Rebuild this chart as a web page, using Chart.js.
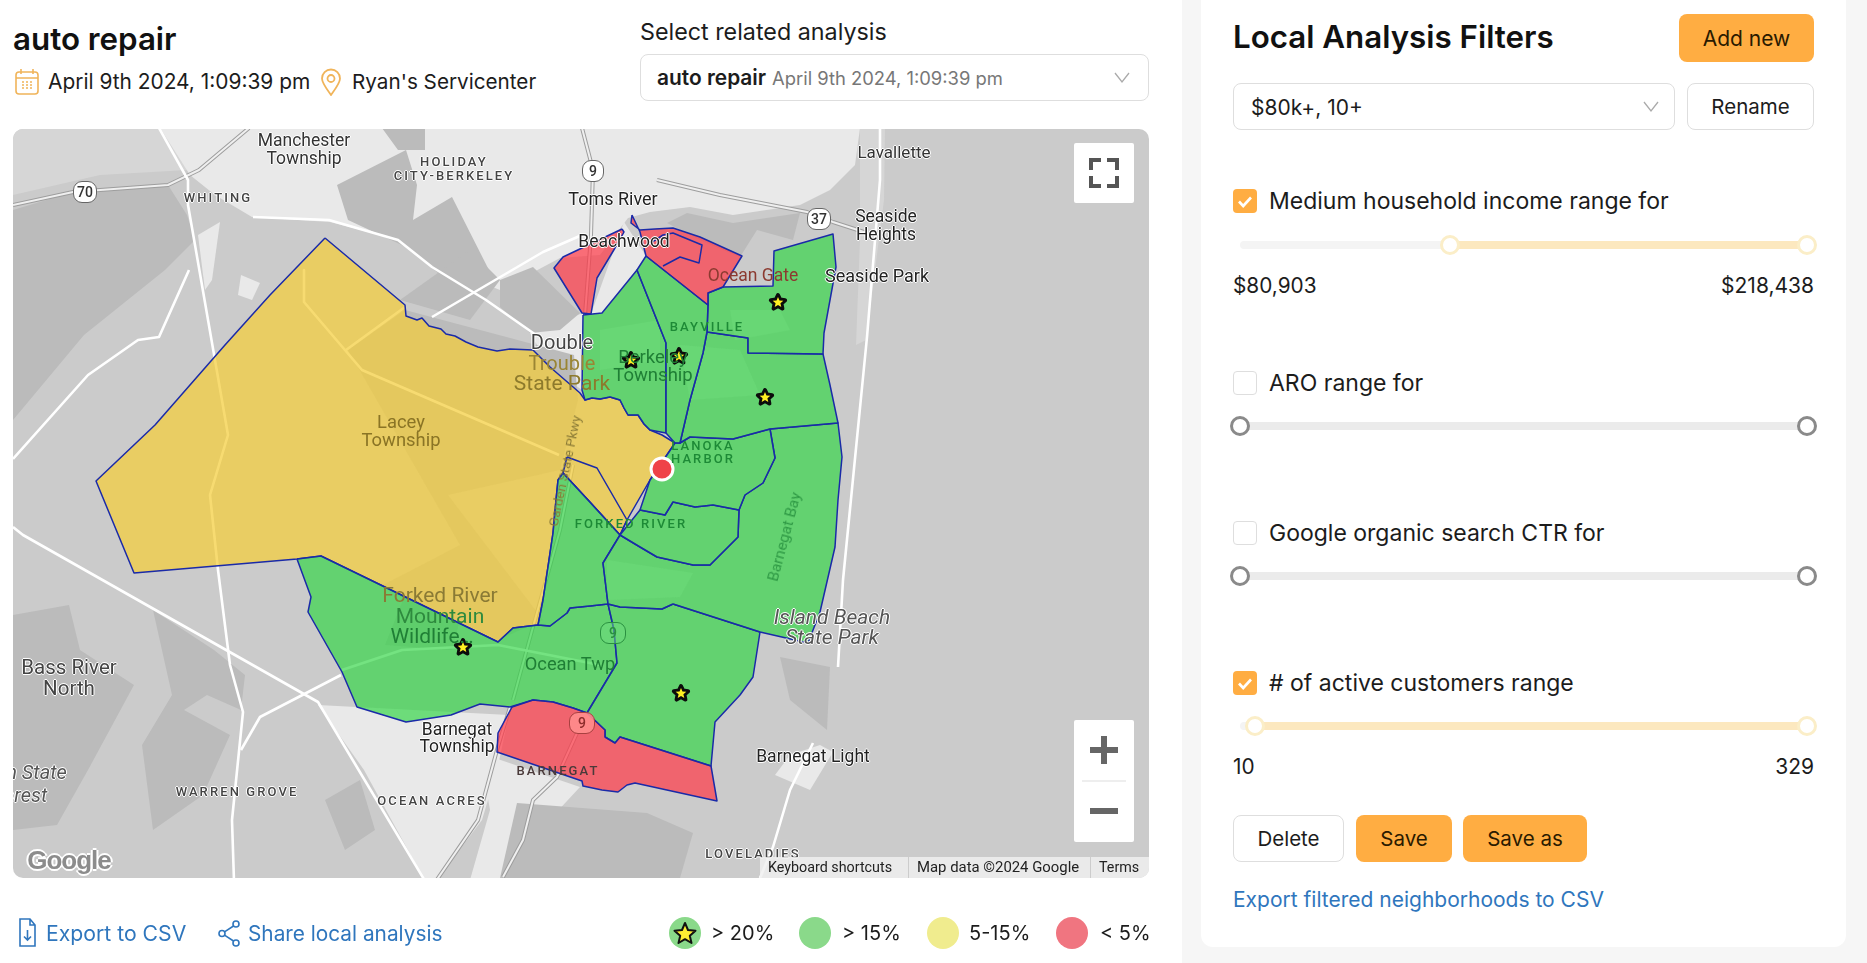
<!DOCTYPE html>
<html>
<head>
<meta charset="utf-8">
<title>auto repair</title>
<script src="https://cdn.jsdelivr.net/npm/chart.js@4"></script>
<style>
  html, body { margin: 0; padding: 0; width: 1867px; height: 963px; overflow: hidden; background: #fff; font-family: Inter, "Open Sans", sans-serif; color: #1c1c1c; }
  .abs { position: absolute; white-space: nowrap; }
  .mid { transform: translateY(-50%); }
  #side { position: absolute; left: 1182px; top: 0; width: 685px; height: 963px; background: #f6f6f6; }
  #card { position: absolute; left: 1201px; top: -10px; width: 645px; height: 957px; background: #fff; border-radius: 12px; }
  #mapbox { position: absolute; left: 13px; top: 129px; width: 1136px; height: 749px; overflow: hidden; border-radius: 10px; background: #cbcbcb; }
  #mapbox canvas { position: absolute; left: 0; top: 0; }
  .ml { position: absolute; white-space: nowrap; font-family: Roboto, sans-serif; transform: translate(-50%, -50%); line-height: 1; }
  .box { position: absolute; box-sizing: border-box; background: #fff; border: 1.5px solid #dedede; border-radius: 8px; }
  .btn { position: absolute; box-sizing: border-box; border-radius: 8px; display: flex; align-items: center; justify-content: center; font-size: 20.500px; }
  .orange { background: #ffad42; color: #2a1a00; }
  .white { background: #fff; border: 1.5px solid #dedede; color: #1c1c1c; }
  .cb { position: absolute; left: 1233px; width: 24px; height: 24px; box-sizing: border-box; border-radius: 4px; }
  .cb.on { background: #ffad42; }
  .cb.off { background: #fff; border: 1.5px solid #dedede; }
  .track { position: absolute; height: 8px; border-radius: 4px; transform: translateY(-50%); }
  .knob { position: absolute; width: 20px; height: 20px; box-sizing: border-box; border-radius: 50%; background: #fff; transform: translate(-50%, -50%); }
  .lg { position: absolute; width: 32px; height: 32px; border-radius: 50%; top: 917px; }
  .link { color: #2f76bd; }
  .shield { position: absolute; transform: translate(-50%, -50%); font: 500 14px Roboto, sans-serif; text-align: center; }
</style>
</head>
<body>

<div id="side"></div>
<div id="card"></div>

<!-- header -->
<div class="abs mid" style="left:13px;top:39px;font-size:31.300px;font-weight:600;color:#111">auto repair</div>
<svg class="abs" style="left:15px;top:68px" width="24" height="27" viewBox="0 0 24 27" fill="none" stroke="#f0b45a" stroke-width="1.6"><rect x="1" y="4" width="22" height="22" rx="3"/><path d="M1 10h22M6 1v5M18 1v5"/><path d="M7 14h10M7 17h10M7 20h10" stroke-dasharray="2 2"/></svg>
<div class="abs mid" style="left:48px;top:81px;font-size:20.900px">April 9th 2024, 1:09:39 pm</div>
<svg class="abs" style="left:320px;top:68px" width="22" height="28" viewBox="0 0 22 28" fill="none" stroke="#f0b45a" stroke-width="1.8"><path d="M11 27C6 20 2 15 2 10.500a9 9 0 0 1 18 0C20 15 16 20 11 27z"/><circle cx="11" cy="10.500" r="3.500"/></svg>
<div class="abs mid" style="left:352px;top:81px;font-size:20.700px">Ryan's Servicenter</div>

<div class="abs mid" style="left:640px;top:31px;font-size:23.300px">Select related analysis</div>
<div class="box" style="left:640px;top:54px;width:509px;height:47px"></div>
<div class="abs mid" style="left:657px;top:77px;font-size:20.900px"><b style="font-weight:600">auto repair</b> <span style="color:#777;font-size:18.400px">April 9th 2024, 1:09:39 pm</span></div>
<svg class="abs" style="left:1114px;top:72px" width="16" height="12" fill="none" stroke="#aaa" stroke-width="1.3"><path d="M1 1l7 9 7-9"/></svg>

<!-- map -->
<div id="mapbox">
  <canvas id="mapa" width="1136" height="749"></canvas>
  <div id="labels"></div>
  <div class="abs" style="left:1061px;top:14px;width:60px;height:60px;background:#fff;border-radius:2px">
    <svg width="60" height="60" fill="none" stroke="#555" stroke-width="4"><path d="M17 27V17h10M33 17h10v10M43 33v10H33M27 43H17V33"/></svg>
  </div>
  <div class="abs" style="left:1061px;top:591px;width:60px;height:122px;background:#fff;border-radius:2px">
    <svg width="60" height="122" fill="none" stroke="#666" stroke-width="6"><path d="M16 30h28M30 16v28M16 91h28"/><path d="M8 61h44" stroke="#ddd" stroke-width="1"/></svg>
  </div>
  <div class="abs" style="left:747px;top:728px;width:389px;height:21px;background:rgba(240,240,240,.85);font:14.300px Roboto,sans-serif;color:#222;line-height:21px">
    <span class="abs" style="left:8px">Keyboard shortcuts</span>
    <span class="abs" style="left:148px;top:0;bottom:0;border-left:1px solid #ccc"></span>
    <span class="abs" style="left:157px;font-size:14.900px">Map data ©2024 Google</span>
    <span class="abs" style="left:330px;top:0;bottom:0;border-left:1px solid #ccc"></span>
    <span class="abs" style="left:339px">Terms</span>
  </div>
</div>

<!-- footer -->
<svg class="abs" style="left:18px;top:918px" width="19" height="30" viewBox="0 0 19 30" fill="none" stroke="#2f76bd" stroke-width="1.6"><path d="M2 1h10l5 6v21H2zM12 1v6h5M9.500 12v10M6 18.500l3.500 3.500 3.500-3.500"/></svg>
<div class="abs mid link" style="left:46px;top:933px;font-size:21.200px">Export to CSV</div>
<svg class="abs" style="left:217px;top:919px" width="24" height="29" viewBox="0 0 24 29" fill="none" stroke="#2f76bd" stroke-width="1.6"><circle cx="19" cy="5" r="3"/><circle cx="5" cy="14.500" r="3"/><circle cx="19" cy="24" r="3"/><path d="M16.500 7L7.500 12.800M7.500 16.200L16.500 22"/></svg>
<div class="abs mid link" style="left:248px;top:933px;font-size:20.800px">Share local analysis</div>

<div class="lg" style="left:669px;background:#8ad98a"></div>
<svg class="abs" style="left:673px;top:921px" width="24" height="24" viewBox="0 0 24 24"><path d="M12 2l3 7 7.500.700-5.700 5 1.700 7.300L12 18.200 5.500 22l1.700-7.300-5.700-5L9 9z" fill="#ffee33" stroke="#111" stroke-width="2" stroke-linejoin="round"/></svg>
<div class="abs mid" style="left:711px;top:933px;font-size:20px">&gt; 20%</div>
<div class="lg" style="left:799px;background:#8ad98a"></div>
<div class="abs mid" style="left:842px;top:933px;font-size:20px">&gt; 15%</div>
<div class="lg" style="left:927px;background:#f0ec8e"></div>
<div class="abs mid" style="left:969px;top:933px;font-size:20px">5-15%</div>
<div class="lg" style="left:1056px;background:#f07580"></div>
<div class="abs mid" style="left:1100px;top:933px;font-size:20px">&lt; 5%</div>

<!-- filters -->
<div class="abs mid" style="left:1233px;top:37px;font-size:31.300px;font-weight:600;color:#111">Local Analysis Filters</div>
<div class="btn orange" style="left:1679px;top:14px;width:135px;height:48px;font-size:21px">Add new</div>
<div class="box" style="left:1233px;top:83px;width:442px;height:47px"></div>
<div class="abs mid" style="left:1251px;top:107px;font-size:21px">$80k+, 10+</div>
<svg class="abs" style="left:1643px;top:101px" width="16" height="12" fill="none" stroke="#aaa" stroke-width="1.3"><path d="M1 1l7 9 7-9"/></svg>
<div class="btn white" style="left:1687px;top:83px;width:127px;height:47px">Rename</div>

<div id="filters"></div>

<div class="btn white" style="left:1233px;top:815px;width:111px;height:47px">Delete</div>
<div class="btn orange" style="left:1356px;top:815px;width:96px;height:47px">Save</div>
<div class="btn orange" style="left:1463px;top:815px;width:124px;height:47px">Save as</div>
<div class="abs mid link" style="left:1233px;top:899px;font-size:21px">Export filtered neighborhoods to CSV</div>

<script>
// valores, em coordenadas do mapa
var lacey = [[325,238],[405,305],[406,316],[417,320],[422,318],[429,326],[441,329],[446,334],[455,336],[466,342],[478,347],[497,351],[510,349],[533,350],[541,358],[550,367],[565,380],[580,393],[585,400],[592,398],[600,399],[610,397],[620,400],[624,408],[628,415],[638,415],[644,424],[650,430],[662,435],[675,443],[650,480],[627,520],[620,535],[588,500],[563,473],[558,480],[556,500],[553,533],[543,600],[538,625],[513,628],[498,642],[321,556],[297,559],[134,573],[96,481],[155,425],[225,345],[270,295]];
var laceyInner = [[567,457],[597,468],[627,520],[620,535],[588,500],[563,473],[567,457]];

var oceanTwp = [[297,559],[321,556],[498,642],[513,628],[538,625],[550,626],[567,613],[570,608],[590,606],[608,604],[614,630],[617,663],[587,713],[573,708],[553,702],[533,700],[510,707],[480,704],[451,715],[406,722],[357,707],[342,672],[308,612],[311,597]];
var forkedRiver = [[563,473],[588,500],[620,535],[603,563],[608,604],[590,606],[570,608],[567,613],[550,626],[538,625],[543,600],[553,533],[556,500],[558,480]];
var southBlock = [[608,604],[620,607],[662,609],[673,604],[760,632],[753,677],[740,695],[715,722],[711,766],[620,737],[615,743],[605,737],[605,730],[587,713],[617,663],[614,630]];
var barnegat = [[512,707],[533,700],[553,702],[573,708],[587,713],[605,730],[605,737],[615,743],[620,737],[711,766],[717,801],[635,783],[627,785],[618,792],[602,790],[583,786],[582,781],[497,752],[498,733]];
var bayEast = [[673,604],[760,632],[808,643],[820,612],[835,547],[838,500],[842,457],[838,423],[770,429],[775,458],[763,483],[745,495],[739,510],[738,537],[710,565],[693,565],[657,557],[640,547],[620,535],[603,563],[608,604],[620,607],[662,609]];
var forkedEast = [[620,535],[640,547],[657,557],[693,565],[710,565],[738,537],[739,510],[713,505],[695,507],[673,502],[665,515],[640,510]];
var lanoka = [[675,443],[680,443],[690,437],[733,439],[770,429],[775,458],[763,483],[745,495],[739,510],[713,505],[695,507],[673,502],[665,515],[640,510],[650,480]];
var eastMid = [[707,332],[748,338],[748,353],[823,354],[830,385],[838,423],[770,429],[733,439],[690,437],[680,443],[690,400],[703,353]];
var northEast = [[708,305],[708,293],[723,287],[773,286],[774,251],[833,234],[836,267],[824,333],[823,354],[748,353],[748,338],[707,332]];
var berkeley = [[583,315],[602,313],[637,270],[666,343],[666,433],[650,430],[644,424],[638,415],[628,415],[624,408],[620,400],[610,397],[600,399],[592,398],[585,400],[582,390]];
var bayville = [[646,256],[637,270],[666,343],[666,433],[675,443],[680,443],[690,400],[703,353],[707,332],[708,305]];
var redNorth = [[632,215],[631,223],[640,230],[655,229],[673,228],[700,237],[742,256],[723,287],[708,293],[708,305],[646,256],[640,232]];
var redInner = [[646,246],[663,235],[673,233],[702,245],[699,263],[680,257],[663,266]];
var beachwood = [[622,229],[563,257],[554,268],[582,313],[591,314],[597,278],[615,248],[624,232]];

var starX = [631, 679, 778, 765, 681, 463];
var starY = [360, 356, 302, 397, 693, 647];
var businessPoint = [[662, 469]];

// fundo do mapa
var lightLand = [
  [[160,128],[860,128],[855,165],[830,190],[800,205],[733,215],[690,207],[650,212],[628,218],[600,255],[560,258],[500,290],[430,262],[400,240],[330,222],[252,217],[215,195],[190,175]],
  [[530,333],[583,313],[582,390],[550,367]],
  [[591,314],[624,222],[646,256],[637,270],[602,313]],
  [[318,705],[509,715],[497,770],[482,820],[436,881],[425,881],[364,770]],
  [[480,753],[580,787],[540,830],[505,880],[470,880],[490,810]],
  [[198,235],[220,222],[212,280],[205,290]],
  [[241,275],[260,283],[252,300],[238,295]],
  [[820,745],[833,752],[810,790],[775,775],[790,755]]
];
var softLand = [
  [[607,560],[693,573],[680,597],[607,600]],
  [[730,310],[780,310],[790,330],[735,340]],
  [[600,330],[660,320],[660,360],[600,370]],
  [[680,345],[740,350],[760,395],[690,400]]
];
var midLand = [
  [[13,128],[160,128],[187,170],[100,175],[13,195]],
  [[860,128],[885,128],[884,200],[866,340],[856,345],[860,240]]
];
var darkLand = [
  [[13,210],[73,192],[168,185],[187,215],[195,240],[165,270],[84,335],[13,420]],
  [[337,185],[406,150],[417,185],[413,220],[452,197],[494,280],[459,290],[406,247],[348,220]],
  [[382,128],[425,128],[425,150],[398,150]],
  [[13,615],[69,605],[80,650],[134,685],[88,770],[57,825],[13,830]],
  [[153,610],[214,650],[245,675],[241,710],[207,695],[184,710],[230,735],[203,795],[153,830],[142,745],[172,695]],
  [[348,350],[405,310],[574,355],[578,400],[560,470],[448,495],[543,620],[498,640],[383,585],[460,545]],
  [[517,803],[647,813],[693,833],[680,878],[500,878]],
  [[780,657],[830,667],[827,730],[790,700]],
  [[667,223],[687,213],[733,223],[800,213],[793,240],[757,230],[740,257],[700,240]],
  [[500,280],[533,267],[580,313],[560,330],[530,333],[500,307]],
  [[385,645],[405,595],[460,620],[452,650]],
  [[325,800],[360,780],[375,830],[345,850]],
  [[400,300],[470,250],[500,280],[470,320]]
];

var whiteRoads = [
  [[159,128],[188,180],[188,205],[195,245],[228,435],[210,495],[218,570],[230,665],[243,712],[232,820],[234,881]],
  [[13,527],[23,535],[318,702],[425,881]],
  [[13,459],[88,375],[138,340],[159,337],[189,270]],
  [[253,217],[329,220],[398,240],[432,267],[486,300],[536,335]],
  [[432,317],[543,252],[582,235]],
  [[341,675],[260,717],[241,750]],
  [[304,270],[304,302],[362,370],[559,455]],
  [[346,350],[405,307]],
  [[342,670],[402,650],[498,645],[600,665]],
  [[880,128],[880,180],[867,337],[843,580],[838,667]],
  [[813,743],[790,790],[773,847],[760,878]]
];
var greyRoads = [
  [[13,205],[73,192],[168,185],[199,170],[249,128]],
  [[582,128],[593,170],[591,235],[585,315]],
  [[510,707],[497,750],[478,820],[436,881]],
  [[577,733],[557,777],[533,800],[523,840],[503,877]],
  [[657,180],[720,195],[807,212],[833,222],[867,233]],
  [[573,465],[560,530],[533,627],[513,700]]
];

function pts(arr, closed) {
  var out = arr.map(function (p) { return { x: p[0], y: p[1] }; });
  if (closed) out.push({ x: arr[0][0], y: arr[0][1] });
  return out;
}

var sets = [];
function patch(arr, cor) {
  sets.push({ data: pts(arr, true), showLine: true, fill: "shape", backgroundColor: cor, borderWidth: 0, borderColor: cor, pointRadius: 0 });
}
function road(arr, cor, w) {
  sets.push({ data: pts(arr, false), showLine: true, fill: false, borderColor: cor, borderWidth: w, pointRadius: 0, borderJoinStyle: "round" });
}
function area(arr, cor) {
  sets.push({ data: pts(arr, true), showLine: true, fill: "shape", backgroundColor: cor, borderColor: "#1a2aa8", borderWidth: 1.5, pointRadius: 0, borderJoinStyle: "round" });
}

midLand.forEach(function (a) { patch(a, "#d6d6d6"); });
lightLand.forEach(function (a) { patch(a, "#e9e9e9"); });
softLand.forEach(function (a) { patch(a, "#d9d9d9"); });
darkLand.forEach(function (a) { patch(a, "#bbbbbb"); });
greyRoads.forEach(function (a) { road(a, "#9d9d9d", 4); road(a, "#efefef", 2); });
whiteRoads.forEach(function (a) { road(a, "#ffffff", 2.6); });

var verde = "rgba(50,213,70,.68)";
var amarelo = "rgba(244,205,58,.72)";
var vermelho = "rgba(255,56,70,.7)";

area(lacey, amarelo);
road(laceyInner, "#1a2aa8", 1.5);
area(oceanTwp, verde);
area(forkedRiver, verde);
area(southBlock, verde);
area(bayEast, verde);
area(forkedEast, verde);
area(lanoka, verde);
area(eastMid, verde);
area(northEast, verde);
area(berkeley, verde);
area(bayville, verde);
area(barnegat, vermelho);
area(redNorth, vermelho);
road(redInner, "#1a2aa8", 1.5);
area(beachwood, vermelho);

// estrela amarela dos pontos > 20%
var starImg = document.createElement("canvas");
starImg.width = 24; starImg.height = 24;
var sc = starImg.getContext("2d");
function starPath(r1, r2) {
  sc.beginPath();
  for (var k = 0; k < 10; k++) {
    var rr = k % 2 ? r2 : r1;
    var aa = -Math.PI / 2 + k * Math.PI / 5;
    sc[k ? "lineTo" : "moveTo"](12 + rr * Math.cos(aa), 12.5 + rr * Math.sin(aa));
  }
  sc.closePath();
}
starPath(7.5, 3.6);
sc.lineJoin = "round";
sc.lineWidth = 4;
sc.strokeStyle = "#0c0c0c";
sc.fillStyle = "#0c0c0c";
sc.stroke();
sc.fill();
starPath(5.6, 2.5);
sc.fillStyle = "#fff022";
sc.fill();

sets.push({
  data: starX.map(function (x, i) { return { x: x, y: starY[i] }; }),
  showLine: false, pointStyle: starImg, pointRadius: 12
});
sets.push({
  data: pts(businessPoint, false),
  showLine: false, pointRadius: 11, backgroundColor: "#ef4248", borderColor: "#fff", borderWidth: 3
});

new Chart(document.getElementById("mapa"), {
  type: "scatter",
  data: { datasets: sets.slice().reverse() },
  options: {
    responsive: false,
    animation: false,
    layout: { padding: 0, autoPadding: false },
    plugins: { legend: { display: false }, tooltip: { enabled: false } },
    scales: {
      x: { type: "linear", min: 13, max: 1149, display: false },
      y: { type: "linear", min: 129, max: 878, reverse: true, display: false }
    }
  }
});

// nomes no mapa
var caixa = document.getElementById("labels");
function lbl(txt, x, y, cor, tam, extra, halo) {
  var d = document.createElement("div");
  d.className = "ml";
  d.textContent = txt;
  var h = halo || "#fff";
  var sombra = h === "none" ? "" : "text-shadow:-1px 0 " + h + ",1px 0 " + h + ",0 -1px " + h + ",0 1px " + h + ";";
  d.style.cssText = "left:" + (x - 13) + "px;top:" + (y - 129) + "px;color:" + cor + ";font-size:" + tam + "px;" + sombra + (extra || "");
  caixa.appendChild(d);
  return d;
}
function caps(txt, x, y, cor, halo) {
  lbl(txt, x, y, cor, 13, "letter-spacing:2.1px;font-weight:500;", halo);
}
var cinza = "#333";
var verdeTxt = "#1d8a36";
lbl("Manchester", 304, 141, cinza, 17.5);
lbl("Township", 304, 159, cinza, 17.5);
caps("HOLIDAY", 454, 161, "#444");
caps("CITY-BERKELEY", 454, 175, "#444");
caps("WHITING", 218, 197, "#444");
lbl("Toms River", 613, 199, "#222", 18);
lbl("Lavallette", 894, 152, cinza, 17);
lbl("Seaside", 886, 217, "#222", 17.5);
lbl("Heights", 886, 235, "#222", 17.5);
lbl("Seaside Park", 877, 276, "#222", 18);
lbl("Beachwood", 624, 242, "#222", 17.5);
lbl("Ocean Gate", 753, 276, "#8c3a30", 17.5, "", "none");
caps("BAYVILLE", 707, 326, verdeTxt, "none");
lbl("Double", 562, 342, "#444", 20);
lbl("Trouble", 562, 363, "#9a8534", 20, "", "none");
lbl("State Park", 562, 383, "#8d7a2c", 21, "", "none");
lbl("Berkeley", 653, 357, "#1f7f35", 18.5, "", "none");
lbl("Township", 653, 375, "#1f7f35", 18.5, "", "none");
lbl("Lacey", 401, 422, "#8a7425", 18.4, "", "none");
lbl("Township", 401, 440, "#8a7425", 18.4, "", "none");
lbl("Garden State Pkwy", 565, 471, "#8a7a35", 13.5, "transform:translate(-50%,-50%) rotate(-78deg);", "none");
caps("LANOKA", 703, 445, verdeTxt, "none");
caps("HARBOR", 703, 458, verdeTxt, "none");
caps("FORKED RIVER", 631, 523, verdeTxt, "none");
lbl("Barnegat Bay", 785, 537, "#2f9a45", 15.5, "transform:translate(-50%,-50%) rotate(-75deg);", "none");
lbl("Forked River", 440, 595, "#8a7a35", 21, "", "none");
lbl("Mountain", 440, 616, "#2e8a3e", 21, "", "none");
lbl("Wildlife…", 432, 636, "#1f7f35", 21, "", "none");
lbl("Ocean Twp", 570, 664, "#1f7f35", 18.3, "", "none");
lbl("Island Beach", 832, 617, "#555", 21, "font-style:italic;");
lbl("State Park", 832, 637, "#555", 21, "font-style:italic;");
lbl("Bass River", 69, 667, "#444", 20.5);
lbl("North", 69, 688, "#444", 20.5);
lbl("Penn State", 20, 772, "#555", 20, "font-style:italic;");
lbl("Forest", 20, 795, "#555", 20, "font-style:italic;");
caps("WARREN GROVE", 237, 791, "#444");
caps("OCEAN ACRES", 432, 800, "#444");
lbl("Barnegat", 457, 730, "#222", 17.5);
lbl("Township", 457, 747, "#222", 17.5);
caps("BARNEGAT", 558, 770, "#4a3a3a", "none");
lbl("Barnegat Light", 813, 757, "#222", 17.5);
caps("LOVELADIES", 753, 853, "#444");
lbl("Google", 69, 860, "#8c8c8c", 26, "font-family:'Liberation Sans',sans-serif;font-weight:700;letter-spacing:-1px;text-shadow:-2px 0 #fff,2px 0 #fff,0 -2px #fff,0 2px #fff;");

// escudos das estradas
function shield(txt, x, y, fundo, cor, borda, w) {
  var d = document.createElement("div");
  d.className = "shield";
  d.textContent = txt;
  d.style.cssText = "left:" + (x - 13) + "px;top:" + (y - 129) + "px;width:" + w + "px;height:20px;line-height:20px;background:" + fundo + ";color:" + cor + ";border:1.5px solid " + borda + ";border-radius:9px;";
  caixa.appendChild(d);
}
shield("70", 85, 192, "#fff", "#333", "#666", 22);
shield("9", 593, 171, "#fff", "#333", "#666", 20);
shield("37", 819, 219, "#fff", "#333", "#666", 22);
shield("9", 582, 723, "rgba(255,140,140,.9)", "#8c2c2c", "#a84040", 24);
shield("9", 613, 633, "rgba(110,220,125,.5)", "#2a9040", "#2a9040", 24);

// filtros
var filtroNomes = ["Medium household income range for", "ARO range for", "Google organic search CTR for", "# of active customers range"];
var filtroAtivo = [true, false, false, true];
var filtroY = [201, 383, 533, 683];
var sliderY = [245, 426, 576, 726];
var sliderIni = [1450, 1240, 1240, 1255];
var valoresMin = ["$80,903", "", "", "10"];
var valoresMax = ["$218,438", "", "", "329"];

var fx = document.getElementById("filters");
var html = "";
filtroNomes.forEach(function (nome, i) {
  var y = filtroY[i], s = sliderY[i], on = filtroAtivo[i];
  html += '<div class="cb ' + (on ? "on" : "off") + '" style="top:' + (y - 12) + 'px">' +
    (on ? '<svg width="24" height="24" fill="none" stroke="#fff" stroke-width="2.6"><path d="M6 12.500l4.200 4.500L18 8.500"/></svg>' : "") + "</div>";
  html += '<div class="abs mid" style="left:1269px;top:' + y + 'px;font-size:23px">' + nome + "</div>";
  html += '<div class="track" style="left:1240px;width:567px;top:' + s + 'px;background:' + (on ? "#f4f4f4" : "#ebebeb") + '"></div>';
  if (on) html += '<div class="track" style="left:' + sliderIni[i] + 'px;width:' + (1807 - sliderIni[i]) + 'px;top:' + s + 'px;background:#fce8bf"></div>';
  var bc = on ? "#fbeec8" : "#8a8a8a";
  html += '<div class="knob" style="left:' + sliderIni[i] + 'px;top:' + s + 'px;border:3px solid ' + bc + '"></div>';
  html += '<div class="knob" style="left:1807px;top:' + s + 'px;border:3px solid ' + bc + '"></div>';
  if (valoresMin[i]) {
    html += '<div class="abs mid" style="left:1233px;top:' + (s + 40) + 'px;font-size:20.800px">' + valoresMin[i] + "</div>";
    html += '<div class="abs mid" style="right:53px;top:' + (s + 40) + 'px;font-size:21px">' + valoresMax[i] + "</div>";
  }
});
fx.innerHTML = html;
</script>
</body>
</html>
